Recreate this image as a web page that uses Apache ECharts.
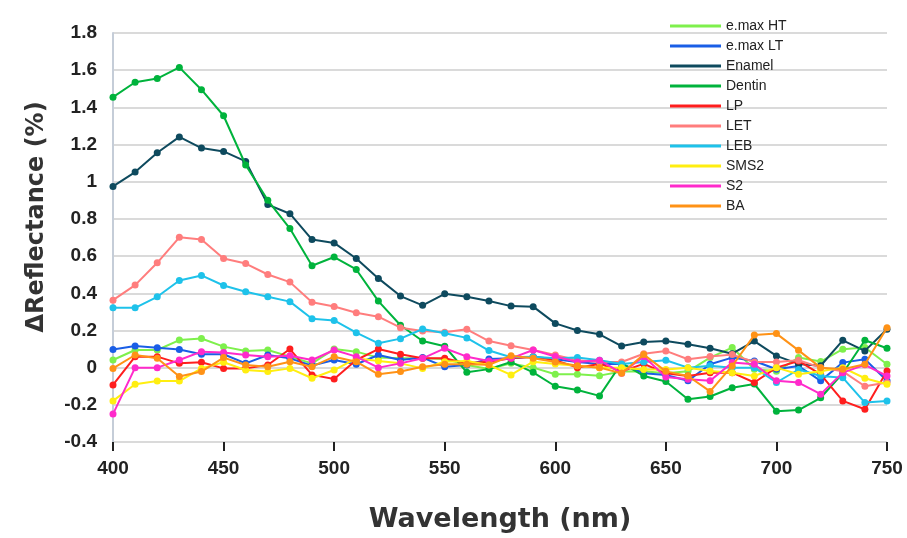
<!DOCTYPE html>
<html>
<head>
<meta charset="utf-8">
<script src="https://cdn.jsdelivr.net/npm/echarts@6/dist/echarts.min.js"></script>
<style>html,body{margin:0;padding:0;background:#fff;}#c{width:907px;height:538px;}</style>
</head>
<body>
<div id="c"></div>
<script>
var wavelengths = [400,410,420,430,440,450,460,470,480,490,500,510,520,530,540,550,560,570,580,590,600,610,620,630,640,650,660,670,680,690,700,710,720,730,740,750];
var seriesNames = ['e.max HT','e.max LT','Enamel','Dentin','LP','LET','LEB','SMS2','S2','BA'];
var emaxHT = [0.041,0.095,0.095,0.148,0.157,0.113,0.089,0.095,0.059,0.023,0.100,0.086,0.054,0.050,0.050,0.047,0.014,-0.007,0.023,0.000,-0.036,-0.036,-0.043,-0.021,-0.020,-0.030,-0.020,0.054,0.108,-0.009,-0.020,0.054,0.033,0.099,0.108,0.018];
var emaxLT = [0.098,0.116,0.107,0.098,0.072,0.072,0.023,0.068,0.050,0.011,0.041,0.018,0.068,0.041,0.054,0.005,0.014,0.047,0.050,0.059,0.045,0.030,0.020,0.020,-0.030,-0.040,-0.071,0.018,0.054,0.036,-0.009,0.009,-0.071,0.027,0.045,-0.071];
var enamel = [0.975,1.052,1.156,1.241,1.181,1.163,1.109,0.877,0.828,0.689,0.671,0.587,0.480,0.385,0.335,0.397,0.381,0.358,0.331,0.328,0.238,0.200,0.179,0.116,0.138,0.143,0.126,0.104,0.075,0.143,0.063,0.020,0.010,0.147,0.090,0.206];
var dentin = [1.455,1.535,1.555,1.615,1.495,1.355,1.090,0.900,0.748,0.548,0.595,0.528,0.358,0.228,0.143,0.115,-0.025,-0.008,0.030,-0.025,-0.100,-0.120,-0.152,0.025,-0.045,-0.075,-0.170,-0.155,-0.108,-0.088,-0.235,-0.228,-0.162,-0.030,0.147,0.104];
var lp = [-0.093,0.059,0.059,0.023,0.029,-0.004,-0.004,0.014,0.100,-0.039,-0.061,0.041,0.100,0.072,0.050,0.050,0.023,0.032,0.050,0.059,0.040,0.000,0.020,-0.020,0.020,-0.030,-0.045,-0.027,-0.027,-0.080,0.000,0.036,-0.036,-0.179,-0.224,-0.018];
var let_ = [0.363,0.444,0.564,0.701,0.689,0.587,0.560,0.501,0.460,0.352,0.329,0.295,0.274,0.215,0.197,0.190,0.206,0.143,0.118,0.095,0.068,0.040,0.030,0.030,0.075,0.090,0.045,0.060,0.070,0.030,0.030,0.040,0.000,-0.020,-0.100,-0.080];
var leb = [0.322,0.322,0.381,0.469,0.496,0.442,0.408,0.381,0.355,0.263,0.254,0.188,0.131,0.156,0.208,0.185,0.160,0.092,0.056,0.059,0.050,0.055,0.040,0.020,0.030,0.040,0.000,0.010,0.000,0.000,-0.080,-0.010,-0.045,-0.054,-0.188,-0.180];
var sms2 = [-0.179,-0.089,-0.072,-0.072,-0.004,0.029,-0.013,-0.021,-0.004,-0.057,-0.013,0.050,0.036,0.023,-0.004,0.032,0.036,0.014,-0.039,0.032,0.020,0.010,0.000,0.000,-0.010,-0.010,0.000,-0.018,-0.027,-0.045,0.000,-0.036,-0.020,0.000,-0.057,-0.089];
var s2 = [-0.250,0.000,0.000,0.041,0.086,0.082,0.068,0.059,0.064,0.041,0.095,0.059,0.000,0.023,0.050,0.104,0.059,0.036,0.050,0.095,0.060,0.030,0.040,-0.030,0.060,-0.050,-0.063,-0.071,0.027,0.018,-0.071,-0.080,-0.143,-0.027,0.015,-0.045];
var ba = [-0.004,0.068,0.050,-0.048,-0.021,0.054,0.014,0.005,0.032,0.005,0.059,0.032,-0.036,-0.021,0.005,0.018,0.018,0.015,0.064,0.050,0.030,0.010,0.000,-0.030,0.070,-0.020,-0.045,-0.128,0.009,0.175,0.183,0.093,0.000,-0.009,0.018,0.215];
var yTicks = {min:-0.4, max:1.8, interval:0.2};
var xTicks = {min:400, max:750, interval:50};

var colors = ['#7ef04c','#1a5ee6','#0e4a5e','#00b33c','#ff1e1e','#ff7d7d','#1ec2ea','#ffee10','#ff2acb','#ff9216'];
var dataSets = [emaxHT, emaxLT, enamel, dentin, lp, let_, leb, sms2, s2, ba];

var series = seriesNames.map(function(n,i){
  return {
    name:n, type:'line',
    data: wavelengths.map(function(w,j){return [w, dataSets[i][j]];}),
    symbol:'circle', symbolSize:7, showSymbol:true,
    lineStyle:{width:2, color:colors[i]},
    itemStyle:{color:colors[i]},
    emphasis:{disabled:true},
    animation:false,
    z: 2 + i
  };
});

var chart = echarts.init(document.getElementById('c'), null, {renderer:'canvas'});
chart.setOption({
  backgroundColor:'#ffffff',
  animation:false,
  color: colors,
  grid:{left:113, right:20, top:33, bottom:95, containLabel:false},
  legend:{
    orient:'vertical', left:665, top:14,
    icon:'rect', itemWidth:51, itemHeight:3, itemGap:6,
    data: seriesNames,
    textStyle:{fontFamily:'Liberation Sans', fontSize:14, color:'#222', lineHeight:14, padding:[0,0,0,0]},
    selectedMode:false
  },
  xAxis:{
    type:'value', min:xTicks.min, max:xTicks.max, interval:xTicks.interval,
    axisLine:{show:false, onZero:false},
    axisTick:{show:true, length:9, lineStyle:{color:'#222', width:2}},
    axisLabel:{fontFamily:'Liberation Sans', fontWeight:'bold', fontSize:19, color:'#222', margin:17},
    splitLine:{show:false},
    name:'Wavelength (nm)', nameLocation:'middle', nameGap:64,
    nameTextStyle:{fontFamily:'DejaVu Sans', fontWeight:'bold', fontSize:27, color:'#333'}
  },
  yAxis:{
    type:'value', min:yTicks.min, max:yTicks.max, interval:yTicks.interval,
    axisLine:{show:true, lineStyle:{color:'#c5cdd8', width:2}},
    axisTick:{show:false},
    axisLabel:{fontFamily:'Liberation Sans', fontWeight:'bold', fontSize:19, color:'#222', margin:16,
      formatter:function(v){return String(Math.round(v*10)/10);}},
    splitLine:{show:true, lineStyle:{color:'#dadada', width:2}}
  },
  graphic:[{
    type:'text', x:37, y:217, rotation:Math.PI/2,
    style:{text:'\u0394Reflectance (%)', font:'bold 24px "DejaVu Sans"', fill:'#333', textAlign:'center', textVerticalAlign:'middle'}
  }],
  series: series
});
</script>
</body>
</html>
